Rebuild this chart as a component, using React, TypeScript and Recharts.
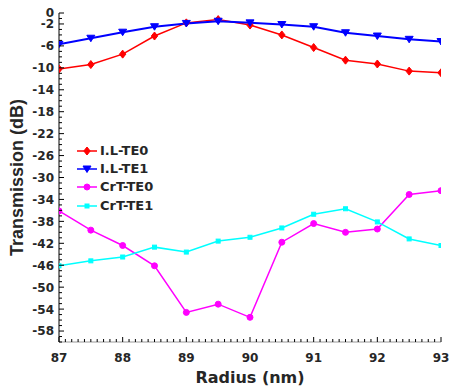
import React from 'react';
import { LineChart, Line, XAxis, YAxis, Legend } from 'recharts';

const radius = [87, 87.5, 88, 88.5, 89, 89.5, 90, 90.5, 91, 91.5, 92, 92.5, 93];
const ilTE0 = [-10.2, -9.4, -7.5, -4.2, -1.8, -1.2, -2.2, -4.0, -6.3, -8.6, -9.3, -10.6, -10.9];
const ilTE1 = [-5.7, -4.6, -3.5, -2.5, -1.9, -1.5, -1.8, -2.1, -2.5, -3.6, -4.2, -4.8, -5.2];
const crtTE0 = [-36.1, -39.6, -42.4, -46.1, -54.6, -53.1, -55.5, -41.8, -38.4, -40.0, -39.4, -33.1, -32.4];
const crtTE1 = [-46.1, -45.2, -44.5, -42.7, -43.6, -41.6, -40.9, -39.2, -36.7, -35.7, -38.1, -41.2, -42.4];

const seriesNames = ['I.L-TE0', 'I.L-TE1', 'CrT-TE0', 'CrT-TE1'];
const seriesColors = ['#FF0000', '#0000FF', '#FF00FF', '#00FFFF'];

const xLabelTicks = [87, 88, 89, 90, 91, 92, 93];
const yLabelTicks = [0, -2, -6, -10, -14, -18, -22, -26, -30, -34, -38, -42, -46, -50, -54, -58];

const xMinorTicks: number[] = [];
for (let i = 870; i <= 930; i++) xMinorTicks.push(i / 10);
const yMinorTicks: number[] = [];
for (let i = -60; i <= 0; i++) yMinorTicks.push(i);

const data = radius.map((r, i) => ({
  r,
  a: ilTE0[i],
  b: ilTE1[i],
  c: crtTE0[i],
  d: crtTE1[i],
}));

const FONT = '"DejaVu Sans", "Liberation Sans", Arial, sans-serif';
const FONT2 = '"Liberation Sans", Arial, sans-serif';
const TXT = '#262626';

const isInt = (v: number) => Math.abs(v - Math.round(v)) < 1e-6;

const LeftTick = (p: any) => {
  const { x, y, payload } = p;
  const v = payload.value;
  const major = yLabelTicks.includes(v);
  return (
    <g>
      <line x1={x} x2={x + (major ? 5 : 3)} y1={y} y2={y} stroke="#000" strokeWidth={1} />
      {major && (
        <text x={x - 5} y={y} dy={4.4} textAnchor="end" fontFamily={FONT} fontWeight="bold" fontSize={12} fill={TXT}>
          {v}
        </text>
      )}
    </g>
  );
};

const RightTick = (p: any) => {
  const { x, y, payload } = p;
  const major = yLabelTicks.includes(payload.value);
  return <line x1={x} x2={x - (major ? 5 : 3)} y1={y} y2={y} stroke="#000" strokeWidth={1} />;
};

const BottomTick = (p: any) => {
  const { x, y, payload } = p;
  const v = payload.value;
  const major = isInt(v);
  return (
    <g>
      <line x1={x} x2={x} y1={y} y2={y - (major ? 5 : 3)} stroke="#000" strokeWidth={1} />
      {major && xLabelTicks.includes(Math.round(v)) && (
        <text x={x} y={y + 19.5} textAnchor="middle" fontFamily={FONT} fontWeight="bold" fontSize={12} fill={TXT}>
          {Math.round(v)}
        </text>
      )}
    </g>
  );
};

const TopTick = (p: any) => {
  const { x, y, payload } = p;
  const major = isInt(payload.value);
  return <line x1={x} x2={x} y1={y} y2={y + (major ? 5 : 3)} stroke="#000" strokeWidth={1} />;
};

const Marker = ({ kind, cx, cy, color }: { kind: string; cx: number; cy: number; color: string }) => {
  if (cx == null || cy == null) return null;
  if (kind === 'a') {
    return <polygon points={`${cx},${cy - 4} ${cx + 3.2},${cy} ${cx},${cy + 4} ${cx - 3.2},${cy}`} fill={color} stroke={color} />;
  }
  if (kind === 'b') {
    return <polygon points={`${cx - 4},${cy - 3} ${cx + 4},${cy - 3} ${cx},${cy + 3.5}`} fill={color} stroke={color} />;
  }
  if (kind === 'c') {
    return <circle cx={cx} cy={cy} r={3} fill={color} stroke={color} />;
  }
  return <rect x={cx - 2} y={cy - 2} width={4} height={4} fill={color} stroke={color} />;
};

const makeDot = (kind: string, color: string) => (p: any) => (
  <Marker key={`${kind}-${p.index}`} kind={kind} cx={p.cx} cy={p.cy} color={color} />
);

const keys = ['a', 'b', 'c', 'd'];

const LegendContent = () => (
  <div style={{ fontFamily: FONT, fontWeight: 'bold', fontSize: 13, color: TXT }}>
    {seriesNames.map((name, i) => (
      <div key={name} style={{ display: 'flex', alignItems: 'center', height: 18.2 }}>
        <svg width={25} height={18} style={{ display: 'block' }}>
          <line x1={2} x2={22} y1={9} y2={9} stroke={seriesColors[i]} strokeWidth={1.5} />
          <Marker kind={keys[i]} cx={12} cy={9} color={seriesColors[i]} />
        </svg>
        <span style={{ lineHeight: '18px' }}>{name}</span>
      </div>
    ))}
  </div>
);

export default function App() {
  return (
    <div style={{ position: 'absolute', left: 0, top: 0, width: 449, height: 389, background: '#fff' }}>
      <LineChart width={449} height={389} data={data} margin={{ top: 13, right: 8, left: 0, bottom: 0 }}>
        <XAxis
          dataKey="r"
          type="number"
          domain={[87, 93]}
          ticks={xMinorTicks}
          interval={0}
          height={47}
          tickSize={0}
          tickMargin={0}
          tickLine={false}
          axisLine={{ stroke: '#9a9a9a' }}
          tick={BottomTick}
          allowDataOverflow
          label={{ value: 'Radius (nm)', position: 'insideBottom', offset: 6, style: { fontFamily: FONT, fontWeight: 'bold', fontSize: 16, fill: TXT } }}
        />
        <XAxis
          xAxisId="top"
          orientation="top"
          type="number"
          domain={[87, 93]}
          ticks={xMinorTicks}
          interval={0}
          height={0}
          tickSize={0}
          tickMargin={0}
          tickLine={false}
          axisLine={{ stroke: '#9a9a9a' }}
          tick={TopTick}
          allowDataOverflow
        />
        <YAxis
          type="number"
          domain={[-60, 0]}
          ticks={yMinorTicks}
          interval={0}
          width={59}
          tickSize={0}
          tickMargin={0}
          tickLine={false}
          axisLine={{ stroke: '#000' }}
          tick={LeftTick}
          allowDataOverflow
          label={{ value: 'Transmission (dB)', angle: -90, position: 'insideLeft', offset: 17, style: { textAnchor: 'middle', fontFamily: FONT2, fontWeight: 'bold', fontSize: 18, fill: TXT } }}
        />
        <YAxis
          yAxisId="right"
          orientation="right"
          type="number"
          domain={[-60, 0]}
          ticks={yMinorTicks}
          interval={0}
          width={0}
          tickSize={0}
          tickMargin={0}
          tickLine={false}
          axisLine={{ stroke: '#000' }}
          tick={RightTick}
          allowDataOverflow
        />
        <Legend
          layout="vertical"
          align="center"
          verticalAlign="middle"
          content={LegendContent}
          wrapperStyle={{ left: 75, top: 142, width: 120, height: 76 }}
        />
        <Line dataKey="a" name={seriesNames[0]} stroke={seriesColors[0]} strokeWidth={1.5} dot={makeDot('a', seriesColors[0])} isAnimationActive={false} />
        <Line dataKey="b" name={seriesNames[1]} stroke={seriesColors[1]} strokeWidth={2} dot={makeDot('b', seriesColors[1])} isAnimationActive={false} />
        <Line dataKey="c" name={seriesNames[2]} stroke={seriesColors[2]} strokeWidth={1.5} dot={makeDot('c', seriesColors[2])} isAnimationActive={false} />
        <Line dataKey="d" name={seriesNames[3]} stroke={seriesColors[3]} strokeWidth={1.5} dot={makeDot('d', seriesColors[3])} isAnimationActive={false} />
      </LineChart>
    </div>
  );
}
